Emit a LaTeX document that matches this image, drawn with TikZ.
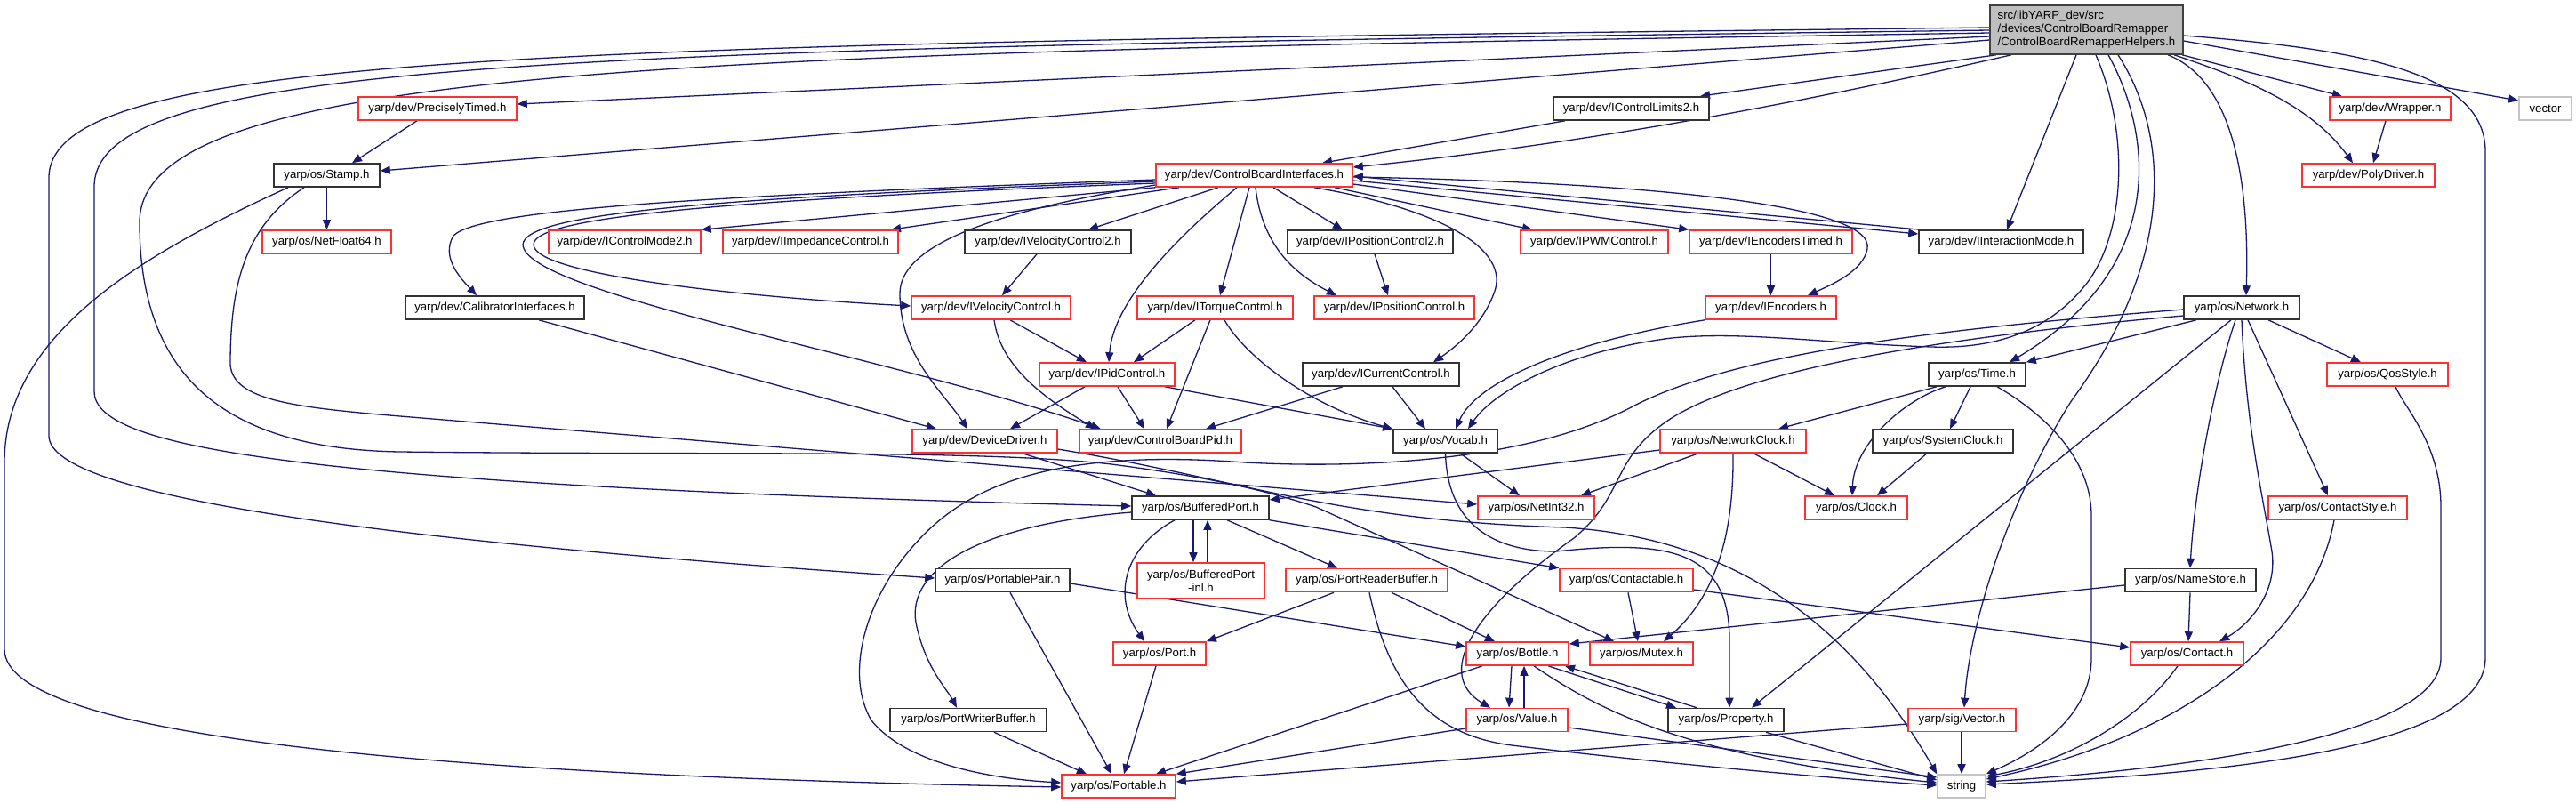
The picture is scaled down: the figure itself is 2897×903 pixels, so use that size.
\documentclass[tikz,border=0pt]{standalone}
\usepackage{fontspec}
\setmainfont{Liberation Sans}
\usetikzlibrary{arrows.meta,backgrounds}
\definecolor{edgec}{RGB}{25,25,112}
\definecolor{redb}{RGB}{255,48,48}
\definecolor{greyb}{RGB}{196,196,196}
\definecolor{rootfill}{RGB}{191,191,191}
\begin{document}
\begin{tikzpicture}[x=1pt,y=-1pt,
  nd/.style={draw, rectangle, line width=1.6pt, inner sep=0pt, minimum height=26pt, fill=white,
             font=\fontsize{13.2}{15}\selectfont, text=black},
  rn/.style={nd, draw=redb},
  bn/.style={nd, draw=black!80},
  gn/.style={nd, draw=greyb},
  ed/.style={draw=edgec, line width=1.3pt, -{Triangle[length=11pt,width=9pt]}},
]
\useasboundingbox (0,0) rectangle (2897,903);
% ---------------- nodes ----------------
\node[nd, draw=black!75, fill=rootfill, minimum width=217pt, minimum height=55pt, align=left] (root) at (2346.5,33.5)
  {src/libYARP\_dev/src\\/devices/ControlBoardRemapper\\/ControlBoardRemapperHelpers.h};
\node[rn, minimum width=178pt] (pt) at (492,122) {yarp/dev/PreciselyTimed.h};
\node[bn, minimum width=175pt] (icl) at (1834.5,122) {yarp/dev/IControlLimits2.h};
\node[rn, minimum width=136pt] (wrap) at (2688,122) {yarp/dev/Wrapper.h};
\node[gn, minimum width=59pt] (vec) at (2862.5,122) {vector};
\node[bn, minimum width=119pt] (stamp) at (367.5,197) {yarp/os/Stamp.h};
\node[rn, minimum width=221pt] (cbi) at (1410.5,197) {yarp/dev/ControlBoardInterfaces.h};
\node[rn, minimum width=149pt] (poly) at (2663.5,197) {yarp/dev/PolyDriver.h};
\node[rn, minimum width=145pt] (nf64) at (367.5,272) {yarp/os/NetFloat64.h};
\node[rn, minimum width=171pt] (icm) at (702.5,272) {yarp/dev/IControlMode2.h};
\node[rn, minimum width=197pt] (iimp) at (911.5,272) {yarp/dev/IImpedanceControl.h};
\node[bn, minimum width=187pt] (ivc2) at (1178.5,272) {yarp/dev/IVelocityControl2.h};
\node[bn, minimum width=186pt] (ipc2) at (1541,272) {yarp/dev/IPositionControl2.h};
\node[rn, minimum width=166pt] (ipwm) at (1793,272) {yarp/dev/IPWMControl.h};
\node[rn, minimum width=183pt] (iet) at (1991.5,272) {yarp/dev/IEncodersTimed.h};
\node[bn, minimum width=185pt] (iim) at (2250.5,272) {yarp/dev/IInteractionMode.h};
\node[bn, minimum width=201pt] (cal) at (556.5,346) {yarp/dev/CalibratorInterfaces.h};
\node[rn, minimum width=179pt] (ivc) at (1114.5,346) {yarp/dev/IVelocityControl.h};
\node[rn, minimum width=175pt] (itc) at (1366.5,346) {yarp/dev/ITorqueControl.h};
\node[rn, minimum width=180pt] (ipc) at (1568,346) {yarp/dev/IPositionControl.h};
\node[rn, minimum width=147pt] (ienc) at (1991.5,346) {yarp/dev/IEncoders.h};
\node[bn, minimum width=130pt] (net) at (2521,346) {yarp/os/Network.h};
\node[rn, minimum width=152pt] (ipid) at (1245,421) {yarp/dev/IPidControl.h};
\node[bn, minimum width=176pt] (icc) at (1553,421) {yarp/dev/ICurrentControl.h};
\node[bn, minimum width=109pt] (time) at (2223.5,421) {yarp/os/Time.h};
\node[rn, minimum width=136pt] (qos) at (2685,421) {yarp/os/QosStyle.h};
\node[rn, minimum width=163pt] (dd) at (1107.5,496) {yarp/dev/DeviceDriver.h};
\node[rn, minimum width=182pt] (cbp) at (1305,496) {yarp/dev/ControlBoardPid.h};
\node[bn, minimum width=117pt] (vocab) at (1625.5,496) {yarp/os/Vocab.h};
\node[rn, minimum width=164pt] (nclk) at (1949,496) {yarp/os/NetworkClock.h};
\node[bn, minimum width=158pt] (sclk) at (2185,496) {yarp/os/SystemClock.h};
\node[bn, minimum width=154pt] (bp) at (1350,571) {yarp/os/BufferedPort.h};
\node[rn, minimum width=131pt] (ni32) at (1727.5,571) {yarp/os/NetInt32.h};
\node[rn, minimum width=115pt] (clk) at (2087.5,571) {yarp/os/Clock.h};
\node[rn, minimum width=156pt] (cstyle) at (2629,571) {yarp/os/ContactStyle.h};
\node[bn, minimum width=151pt] (pp) at (1127.5,652.5) {yarp/os/PortablePair.h};
\node[rn, minimum width=143pt, minimum height=40pt, align=center] (bpinl) at (1350.5,653) {yarp/os/BufferedPort\\-inl.h};
\node[rn, minimum width=182pt] (prb) at (1537,652.5) {yarp/os/PortReaderBuffer.h};
\node[rn, minimum width=150pt] (ctbl) at (1829,652.5) {yarp/os/Contactable.h};
\node[bn, minimum width=147pt] (ns) at (2463.5,652.5) {yarp/os/NameStore.h};
\node[rn, minimum width=104pt] (port) at (1304,735) {yarp/os/Port.h};
\node[rn, minimum width=115pt] (bottle) at (1706.5,735) {yarp/os/Bottle.h};
\node[rn, minimum width=116pt] (mutex) at (1846,735) {yarp/os/Mutex.h};
\node[rn, minimum width=127pt] (contact) at (2459.5,735) {yarp/os/Contact.h};
\node[bn, minimum width=176pt] (pwb) at (1089,809.5) {yarp/os/PortWriterBuffer.h};
\node[rn, minimum width=114pt] (value) at (1706,809.5) {yarp/os/Value.h};
\node[bn, minimum width=130pt] (prop) at (1941,809.5) {yarp/os/Property.h};
\node[rn, minimum width=121pt] (sigvec) at (2206.5,809.5) {yarp/sig/Vector.h};
\node[rn, minimum width=128pt] (portable) at (1258,884) {yarp/os/Portable.h};
\node[gn, minimum width=54pt] (str) at (2206,884) {string};
% ---------------- edges ----------------
\begin{pgfonlayer}{background}
\fill[white] (0,0) rectangle (2897,903);
% root
\draw[ed] (root.west |- 0,31) .. controls (600,50) and (55,60) .. (55,200) -- (55,490) .. controls (55,560) and (450,610) .. (pp.west |- 0,650);
\draw[ed] (root.west |- 0,34) .. controls (650,55) and (106,65) .. (106,210) -- (106,440) .. controls (106,500) and (300,545) .. (bp.west |- 0,569);
\draw[ed] (root.west |- 0,37) .. controls (800,60) and (157,70) .. (157,250) .. controls (157,430) and (260,505) .. (450,508) .. controls (800,512) and (1100,505) .. (1250,522) .. controls (1350,535) and (1420,550) .. (1480,570) -- (mutex.north -| 1815,0);
\draw[ed] (root.west |- 0,41) -- (pt.east |- 0,117);
\draw[ed] (root.west |- 0,45) -- (stamp.east |- 0,192);
\draw[ed] (root.south -| 2245,0) -- (icl.north -| 1912,0);
\draw[ed] (root.south -| 2262,0) .. controls (2050,110) and (1800,160) .. (cbi.east |- 0,188);
\draw[ed] (root.south -| 2335,0) -- (iim.north -| 2257,0);
\draw[ed] (root.south -| 2357,0) .. controls (2395,150) and (2390,260) .. (2348,317) .. controls (2300,380) and (2230,392) .. (2172,390) .. controls (2050,386) and (1960,372) .. (1880,380) .. controls (1760,395) and (1680,440) .. (vocab.north -| 1651,0);
\draw[ed] (root.south -| 2371,0) .. controls (2420,150) and (2440,300) .. (time.north -| 2260,0);
\draw[ed] (root.south -| 2382,0) .. controls (2445,160) and (2440,300) .. (2330,450) .. controls (2260,560) and (2215,700) .. (sigvec.north -| 2209,0);
\draw[ed] (root.south -| 2438,0) .. controls (2510,90) and (2530,200) .. (net.north -| 2526,0);
\draw[ed] (root.south -| 2445,0) .. controls (2530,90) and (2600,120) .. (poly.north -| 2646,0);
\draw[ed] (root.south -| 2454,0) -- (wrap.north -| 2634,0);
\draw[ed] (root.east |- 0,46) -- (vec.west |- 0,113);
\draw[ed] (root.east |- 0,40) .. controls (2650,55) and (2795,80) .. (2795,170) -- (2795,740) .. controls (2795,850) and (2450,872) .. (str.east |- 0,882);
% second level
\draw[ed] (pt.south -| 469,0) -- (stamp.north -| 396,0);
\draw[ed] (icl.south -| 1760,0) -- (cbi.north -| 1487,0);
\draw[ed] (wrap.south -| 2683,0) -- (poly.north -| 2669,0);
% Stamp
\draw[ed] (stamp.south) -- (nf64.north);
\draw[ed] (stamp.south -| 324,0) .. controls (150,290) and (5,380) .. (5,520) -- (5,730) .. controls (5,830) and (500,872) .. (portable.west |- 0,885);
\draw[ed] (stamp.south -| 342,0) .. controls (275,255) and (259,320) .. (259,410) .. controls (262,450) and (330,458) .. (450,468) -- (ni32.west |- 0,567);
% CBI
\draw[ed] (cbi.west |- 0,202) .. controls (800,220) and (540,235) .. (510,265) .. controls (495,290) and (520,315) .. (cal.north -| 536,0);
\draw[ed] (cbi.west |- 0,204) .. controls (800,222) and (590,240) .. (588,275) .. controls (590,330) and (1000,400) .. (cbp.north -| 1238,0);
\draw[ed] (cbi.west |- 0,206) .. controls (800,225) and (600,245) .. (600,275) .. controls (600,310) and (850,335) .. (ivc.west |- 0,344);
\draw[ed] (cbi.south west) -- (icm.north east);
\draw[ed] (cbi.south -| 1326,0) -- (iimp.north -| 1002,0);
\draw[ed] (cbi.west |- 0,208) .. controls (1100,240) and (1012,280) .. (1012,330) .. controls (1012,400) and (1060,440) .. (dd.north -| 1088,0);
\draw[ed] (cbi.south -| 1370,0) -- (ivc2.north -| 1224,0);
\draw[ed] (cbi.south -| 1405,0) -- (itc.north -| 1372,0);
\draw[ed] (cbi.south -| 1391,0) .. controls (1320,270) and (1252,340) .. (ipid.north -| 1247,0);
\draw[ed] (cbi.south -| 1432,0) -- (ipc2.north -| 1510,0);
\draw[ed] (cbi.south -| 1412,0) .. controls (1420,280) and (1460,310) .. (ipc.north -| 1503,0);
\draw[ed] (cbi.south -| 1478,0) .. controls (1620,235) and (1700,280) .. (1680,330) .. controls (1665,370) and (1630,395) .. (icc.north -| 1612,0);
\draw[ed] (cbi.south -| 1501,0) -- (ipwm.north -| 1723,0);
\draw[ed] (cbi.east |- 0,207) -- (iet.north west);
\draw[ed] (cbi.east |- 0,199) .. controls (1850,205) and (2110,230) .. (2100,280) .. controls (2095,305) and (2060,320) .. (ienc.north -| 2033,0);
\draw[ed] (cbi.east |- 0,203) -- (iim.west |- 0,263);
\draw[ed] (iim.west |- 0,258) -- (cbi.east |- 0,198);
% third level
\draw[ed] (ivc2.south -| 1166,0) -- (ivc.north -| 1127,0);
\draw[ed] (ipc2.south -| 1546,0) -- (ipc.north -| 1561,0);
\draw[ed] (iet.south) -- (ienc.north);
\draw[ed] (cal.south -| 606,0) -- (dd.north -| 1053,0);
\draw[ed] (ivc.south -| 1136,0) -- (ipid.north -| 1222,0);
\draw[ed] (ivc.south -| 1118,0) .. controls (1125,410) and (1170,445) .. (cbp.north -| 1232,0);
\draw[ed] (itc.south -| 1344,0) -- (ipid.north -| 1275,0);
\draw[ed] (itc.south -| 1361,0) -- (cbp.north -| 1312,0);
\draw[ed] (itc.south -| 1377,0) .. controls (1400,400) and (1470,455) .. (vocab.north west);
\draw[ed] (ienc.south west) .. controls (1760,385) and (1660,430) .. (vocab.north -| 1637,0);
\draw[ed] (ipid.south -| 1220,0) -- (dd.north -| 1136,0);
\draw[ed] (ipid.south -| 1257,0) -- (cbp.north -| 1287,0);
\draw[ed] (ipid.south -| 1310,0) -- (vocab.north west);
\draw[ed] (icc.south -| 1510,0) -- (cbp.north -| 1356,0);
\draw[ed] (icc.south -| 1566,0) -- (vocab.north -| 1603,0);
% Network
\draw[ed] (net.south -| 2470,0) -- (time.north east);
\draw[ed] (net.south -| 2551,0) -- (qos.north -| 2655,0);
\draw[ed] (net.south -| 2509,0) -- (prop.north -| 1970,0);
\draw[ed] (net.south -| 2514,0) .. controls (2490,430) and (2468,550) .. (ns.north -| 2463,0);
\draw[ed] (net.south -| 2521,0) .. controls (2526,480) and (2545,560) .. (2555,620) .. controls (2562,670) and (2525,705) .. (contact.north -| 2496,0);
\draw[ed] (net.south -| 2528,0) -- (cstyle.north -| 2618,0);
\draw[ed] (net.west |- 0,348) .. controls (2150,372) and (1950,400) .. (1840,455) .. controls (1730,515) and (1550,528) .. (1400,520) .. controls (1200,505) and (1100,540) .. (1040,600) .. controls (970,670) and (950,760) .. (980,810) .. controls (1020,860) and (1120,876) .. (portable.west |- 0,880);
\draw[ed] (net.west |- 0,355) .. controls (2150,382) and (1960,420) .. (1880,470) .. controls (1810,515) and (1830,555) .. (1770,605) .. controls (1650,690) and (1615,760) .. (value.north -| 1676,0);
% Time
\draw[ed] (time.south -| 2178,0) -- (nclk.north -| 2000,0);
\draw[ed] (time.south -| 2188,0) .. controls (2140,450) and (2085,500) .. (clk.north -| 2083,0);
\draw[ed] (time.south -| 2216,0) -- (sclk.north -| 2193,0);
\draw[ed] (time.south -| 2246,0) .. controls (2290,460) and (2352,510) .. (2352,580) -- (2352,740) .. controls (2352,810) and (2280,850) .. (str.north east);
\draw[ed] (qos.south -| 2694,0) .. controls (2705,460) and (2745,500) .. (2745,570) -- (2745,740) .. controls (2745,830) and (2450,865) .. (str.east |- 0,879);
% clocks
\draw[ed] (sclk.south -| 2167,0) -- (clk.north -| 2111,0);
\draw[ed] (nclk.south -| 1972,0) -- (clk.north -| 2063,0);
\draw[ed] (nclk.south -| 1910,0) -- (ni32.north -| 1778,0);
\draw[ed] (nclk.south) .. controls (1950,600) and (1930,670) .. (mutex.north -| 1871,0);
\draw[ed] (nclk.west |- 0,506) -- (bp.east |- 0,562);
% Vocab, DeviceDriver
\draw[ed] (vocab.south -| 1642,0) -- (ni32.north -| 1709,0);
\draw[ed] (vocab.south) .. controls (1628,590) and (1680,620) .. (1750,620) .. controls (1880,606) and (1945,620) .. (1945,720) -- (prop.north -| 1945,0);
\draw[ed] (dd.south -| 1150,0) -- (bp.north -| 1300,0);
\draw[ed] (dd.east |- 0,505) .. controls (1400,540) and (1500,585) .. (1760,593) .. controls (1950,605) and (2080,700) .. (str.north west);
% BufferedPort
\draw[ed] (bp.south -| 1342,0) -- (bpinl.north -| 1342,0);
\draw[ed] (bpinl.north -| 1358,0) -- (bp.south -| 1358,0);
\draw[ed] (bp.south -| 1321,0) .. controls (1265,615) and (1250,670) .. (port.north -| 1287,0);
\draw[ed] (bp.south -| 1380,0) -- (prb.north -| 1504,0);
\draw[ed] (bp.south east) -- (ctbl.north west);
\draw[ed] (bp.west |- 0,576) .. controls (1100,590) and (1020,640) .. (1030,700) .. controls (1040,750) and (1065,775) .. (pwb.north -| 1076,0);
% row I
\draw[ed] (pp.east |- 0,656) -- (bottle.west |- 0,727);
\draw[ed] (pp.south -| 1136,0) -- (portable.north -| 1250,0);
\draw[ed] (prb.south -| 1500,0) -- (port.north east);
\draw[ed] (prb.south -| 1565,0) -- (bottle.north -| 1681,0);
\draw[ed] (prb.south -| 1540,0) .. controls (1560,760) and (1600,825) .. (1700,838) .. controls (1900,862) and (2100,878) .. (str.west |- 0,883);
\draw[ed] (ctbl.south -| 1831,0) -- (mutex.north -| 1842,0);
\draw[ed] (ctbl.east |- 0,663) -- (contact.west |- 0,728);
\draw[ed] (ns.west |- 0,658) -- (bottle.east |- 0,724);
\draw[ed] (ns.south -| 2463,0) -- (contact.north -| 2461,0);
\draw[ed] (cstyle.south -| 2625,0) .. controls (2600,720) and (2450,830) .. (str.east |- 0,876);
% row J / K
\draw[ed] (port.south -| 1300,0) -- (portable.north -| 1264,0);
\draw[ed] (pwb.south -| 1118,0) -- (portable.north -| 1222,0);
\draw[ed] (contact.south -| 2449,0) .. controls (2410,805) and (2330,855) .. (str.east |- 0,873);
\draw[ed] (bottle.south -| 1700,0) -- (value.north -| 1697,0);
\draw[ed] (value.north -| 1714,0) -- (bottle.south -| 1714,0);
\draw[ed] (bottle.south -| 1741,0) -- (prop.north -| 1885,0);
\draw[ed] (prop.north -| 1908,0) -- (bottle.south -| 1760,0);
\draw[ed] (bottle.south -| 1667,0) -- (portable.north -| 1300,0);
\draw[ed] (bottle.south -| 1725,0) .. controls (1800,800) and (1900,852) .. (str.west |- 0,880);
\draw[ed] (value.west |- 0,819) -- (portable.north east);
\draw[ed] (value.east |- 0,818) -- (str.west |- 0,874);
\draw[ed] (prop.south -| 1986,0) -- (str.west |- 0,877);
\draw[ed] (sigvec.south -| 2206,0) -- (str.north -| 2206,0);
\draw[ed] (sigvec.west |- 0,814) -- (portable.east |- 0,879);
\end{pgfonlayer}
\end{tikzpicture}
\end{document}
